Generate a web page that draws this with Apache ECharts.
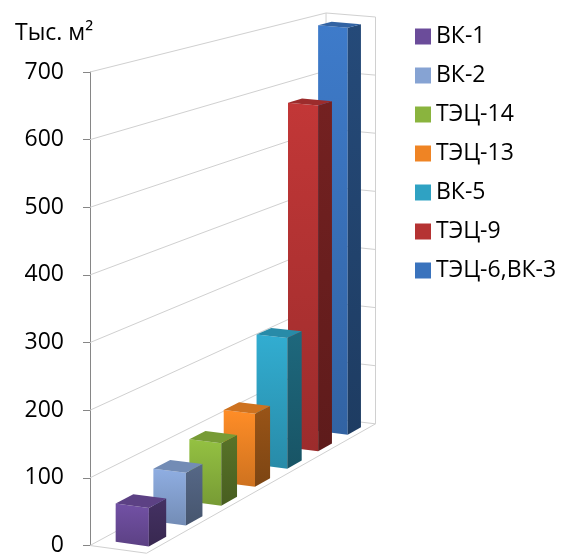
<!DOCTYPE html>
<html>
<head>
<meta charset="utf-8">
<script src="https://cdn.jsdelivr.net/npm/echarts@6/dist/echarts.min.js"></script>
<style>
  html, body { margin: 0; padding: 0; background: #ffffff; }
  #chart { width: 572px; height: 557px; }
</style>
</head>
<body>
<div id="chart"></div>
<script>
// Heat-source areas, thousand m²
const seriesNames = ['ВК-1', 'ВК-2', 'ТЭЦ-14', 'ТЭЦ-13', 'ВК-5', 'ТЭЦ-9', 'ТЭЦ-6,ВК-3'];
const areaValues = [57, 80, 97, 116, 212, 574, 690];
const seriesColors = ['#6b4c9a', '#86a3d3', '#8ab43e', '#ef8424', '#2fa2c3', '#b53333', '#3a73bd'];
const valueTicks = [0, 100, 200, 300, 400, 500, 600, 700];
const unitLabel = 'Тыс. м²';

const FONT = 'Open Sans';
const GRID_COLOR = '#d0d0d0';

// Perspective view of the 3D box: X runs across the category (0..1),
// Z runs through the series depth (0..1), height comes from the value axis pixels.
const VIEW = { ax: 55.7, az: 291.3, bx: 4.58, bz: -56.8, cx: -0.0057, cz: 0.1695 };
// Bar footprint inside the box
const BAR = { x0: 0.27, x1: 0.86, depth: 0.066 };

function project(ox, py, X, Z) {
  const d = 1 + VIEW.cx * X + VIEW.cz * Z;
  return [(ox + VIEW.ax * X + VIEW.az * Z) / d, (py + VIEW.bx * X + VIEW.bz * Z) / d];
}

function shade(hex, k) {
  const n = parseInt(hex.slice(1), 16);
  const f = c => Math.max(0, Math.min(255, Math.round(c * k)));
  return 'rgb(' + f((n >> 16) & 255) + ',' + f((n >> 8) & 255) + ',' + f(n & 255) + ')';
}

function vGrad(top, bottom) {
  return { type: 'linear', x: 0, y: 0, x2: 0, y2: 1,
    colorStops: [{ offset: 0, color: top }, { offset: 1, color: bottom }] };
}

// Walls, floor and gridlines of the 3D box
function renderFrame(params, api) {
  const o = api.coord([0, 0]);
  const ox = o[0], base = o[1];
  const topPx = api.coord([0, valueTicks[valueTicks.length - 1]])[1];
  const P = (X, py, Z) => project(ox, py, X, Z);
  const lines = [];
  const seg = (a, b) => lines.push({
    type: 'line',
    shape: { x1: a[0], y1: a[1], x2: b[0], y2: b[1] },
    style: { stroke: GRID_COLOR, lineWidth: 1 }
  });
  valueTicks.forEach(t => {
    const py = api.coord([0, t])[1];
    seg(P(0, py, 0), P(0, py, 1));   // side wall
    seg(P(0, py, 1), P(1, py, 1));   // back wall
  });
  seg(P(0, base, 1), P(0, topPx, 1));
  seg(P(1, base, 1), P(1, topPx, 1));
  seg(P(0, base, 0), P(1, base, 0)); // floor front edge
  seg(P(1, base, 0), P(1, base, 1)); // floor right edge
  return { type: 'group', children: lines };
}

function renderBar(i, api) {
  const v = api.value(1);
  const o = api.coord([0, 0]);
  const ox = o[0], base = o[1];
  const top = api.coord([0, v])[1];
  const n = seriesNames.length;
  const z0 = (i + 0.5) / n - BAR.depth / 2, z1 = z0 + BAR.depth;
  const x0 = BAR.x0, x1 = BAR.x1;
  const P = (X, py, Z) => project(ox, py, X, Z);
  const c = seriesColors[i];
  const front = [P(x0, base, z0), P(x1, base, z0), P(x1, top, z0), P(x0, top, z0)];
  const side = [P(x1, base, z0), P(x1, base, z1), P(x1, top, z1), P(x1, top, z0)];
  const cap = [P(x0, top, z0), P(x1, top, z0), P(x1, top, z1), P(x0, top, z1)];
  return {
    type: 'group',
    children: [
      { type: 'polygon', shape: { points: front }, style: { fill: vGrad(shade(c, 1.07), shade(c, 0.86)) } },
      { type: 'polygon', shape: { points: side }, style: { fill: vGrad(shade(c, 0.64), shade(c, 0.52)) } },
      { type: 'polygon', shape: { points: cap }, style: { fill: shade(c, 0.86) } }
    ]
  };
}

const barSeries = seriesNames.map((name, i) => ({
  type: 'custom',
  name: name,
  coordinateSystem: 'cartesian2d',
  silent: true,
  z: 3,
  itemStyle: { color: seriesColors[i] },
  data: [[i, areaValues[i]]],
  renderItem: (params, api) => renderBar(i, api)
})).reverse(); // back bars first so the front ones overlap them

const chart = echarts.init(document.getElementById('chart'));
chart.setOption({
  animation: false,
  backgroundColor: '#ffffff',
  title: {
    text: unitLabel,
    left: 10, top: 17,
    textStyle: { fontFamily: FONT, fontSize: 23, fontWeight: 'normal', color: '#000' }
  },
  legend: {
    orient: 'vertical',
    left: 410, top: 20,
    icon: 'rect',
    itemWidth: 16, itemHeight: 16,
    itemGap: 16,
    selectedMode: false,
    data: seriesNames,
    textStyle: { fontFamily: FONT, fontSize: 23, color: '#000', lineHeight: 22 }
  },
  grid: { left: 90, top: 72, bottom: 9, right: 200 },
  xAxis: { type: 'value', min: 0, max: seriesNames.length, show: false },
  yAxis: {
    type: 'value', min: 0, max: 700, interval: 100,
    axisLine: { show: true, lineStyle: { color: '#868686' } },
    axisTick: { show: true, length: 7, lineStyle: { color: '#868686' } },
    axisLabel: { fontFamily: FONT, fontSize: 23, color: '#000', margin: 26 },
    splitLine: { show: false }
  },
  series: [{
    type: 'custom',
    coordinateSystem: 'cartesian2d',
    silent: true,
    z: 1,
    data: [[0, 0]],
    renderItem: renderFrame
  }].concat(barSeries)
});
</script>
</body>
</html>
